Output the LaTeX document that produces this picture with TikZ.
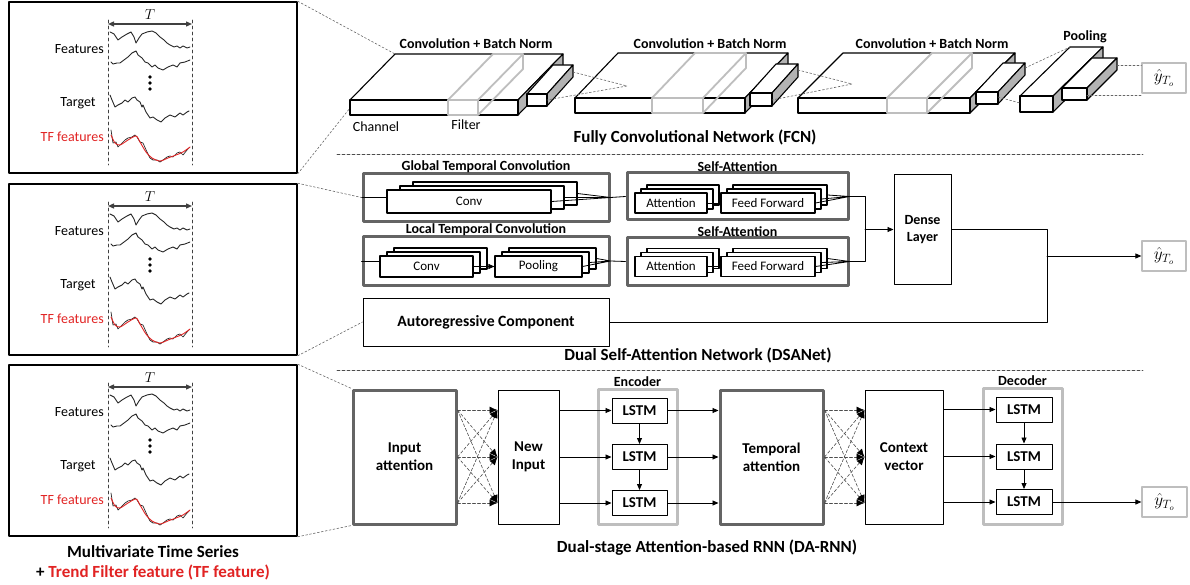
\documentclass[tikz,border=0pt]{standalone}
\usepackage{fontspec}
\setmainfont{Carlito}
\usepackage{amsmath}
\usetikzlibrary{arrows.meta,positioning}

\definecolor{tfred}{RGB}{225,35,35}
\definecolor{boxgray}{RGB}{100,100,100}
\definecolor{litegray}{RGB}{190,190,190}

\newcommand{\cuboid}[6]{%
  \filldraw[fill=white] (#1,#2) -- (#1+#5,#2-#6) -- (#1+#3+#5,#2-#6) -- (#1+#3,#2) -- cycle;
  \filldraw[fill=black!30] (#1+#3,#2) -- (#1+#3+#5,#2-#6) -- (#1+#3+#5,#2+#4-#6) -- (#1+#3,#2+#4) -- cycle;
  \filldraw[fill=white] (#1,#2) rectangle (#1+#3,#2+#4);
}
\newcommand{\filtbox}[6]{%
  \draw[litegray,line width=1.8pt] (#1,#2) rectangle (#1+#3,#2+#4)
    (#1,#2) -- (#1+#5,#2-#6) -- (#1+#3+#5,#2-#6) -- (#1+#3,#2)
    (#1+#3+#5,#2-#6) -- (#1+#3+#5,#2+#4-#6) -- (#1+#3,#2+#4);
}
\newcommand{\layerstack}[7]{%
  \node[lyr,minimum width=#4,minimum height=#5] (#1c) at (#2+2*#6,#3-8) {};
  \node[lyr,minimum width=#4,minimum height=#5] (#1b) at (#2+#6,#3-4) {};
  \node[lyr,minimum width=#4,minimum height=#5] (#1) at (#2,#3) {#7};
}

\begin{document}
\begin{tikzpicture}[x=1pt,y=-1pt,line cap=round,line join=round,>={Triangle[length=6pt,width=5pt]},
  panel/.style={draw,line width=1.5pt,minimum width=288,minimum height=171,inner sep=0},
  lbl/.style={font=\fontsize{14}{16}\selectfont,inner sep=1pt},
  blbl/.style={font=\fontsize{14}{16}\selectfont\bfseries,inner sep=1pt},
  ttl/.style={font=\fontsize{17}{20}\selectfont\bfseries,inner sep=1pt},
  grp/.style={draw=boxgray,line width=3pt,inner sep=0},
  lyr/.style={draw,fill=white,line width=1.1pt,inner sep=0,font=\fontsize{13}{15}\selectfont},
  blk/.style={draw,line width=1pt,inner sep=0,align=center,font=\fontsize{15}{18}\selectfont\bfseries},
  att/.style={blk,draw=boxgray,line width=3pt},
  coder/.style={draw=litegray,line width=3pt,inner sep=0},
  lstm/.style={draw,line width=1pt,minimum width=55,minimum height=25,inner sep=0,font=\fontsize{15}{18}\selectfont\bfseries},
  yhat/.style={draw=litegray,line width=1.2pt,minimum width=44,minimum height=30,inner sep=0,font=\fontsize{17}{20}\selectfont},
  zoomln/.style={black!60,dash pattern=on 2pt off 2pt,line width=0.6pt},
  sepln/.style={black!70,dash pattern=on 3pt off 2pt,line width=0.6pt},
  xarr/.style={black!70,dash pattern=on 3pt off 2pt,line width=0.6pt,-{Latex[length=8pt,width=7pt,color=black]}},
  wave/.style={black!85,line width=0.9pt}]
\useasboundingbox (0,0) rectangle (1190,585);

\foreach \oy/\nm in {0/p1,182/p2,363/p3}{
  \begin{scope}[shift={(0,\oy)}]
    \node[panel] (\nm) at (153,87.5) {};
    \draw[black!75,dashed,line width=0.7pt] (108,20) -- (108,165) (192,20) -- (192,165);
    \draw[<->,black!75,line width=1.3pt] (108,24) -- (192,24);
    \node[font=\fontsize{15}{18}\selectfont] at (150,15) {$T$};
    \node[lbl,anchor=east] at (105,49) {Features};
    \node[lbl] at (78,103) {Target};
    \node[lbl,anchor=east,text=tfred] at (105,137) {TF features};
    \fill (150,77) circle[radius=1.9pt] (150,83) circle[radius=1.9pt] (150,89) circle[radius=1.9pt];
    \draw[wave] plot coordinates {(110,32) (114,34) (118,40) (122,37) (127,34) (131,32) (134,37) (136,43) (139,38) (142,34) (147,32) (152,31) (156,33) (160,37) (164,40) (167,43) (170,45) (174,47) (177,46) (180,48) (183,46) (187,48) (190,47)};
    \draw[wave] plot coordinates {(111,62) (113,64) (117,63) (120,63) (124,60) (128,57) (132,53) (136,51) (138,55) (142,58) (145,62) (148,63) (152,67) (155,65) (158,68) (163,70) (168,67) (173,65) (177,67) (180,63) (185,62) (190,60)};
    \draw[wave] plot coordinates {(110,95) (112,100) (115,107) (118,105) (122,103) (125,100) (128,102) (132,98) (135,97) (137,100) (140,102) (142,107) (143,105) (146,112) (148,115) (150,118) (153,117) (157,120) (161,122) (165,118) (170,115) (175,117) (180,113) (183,115) (187,112) (189,111)};
    \draw[wave,line width=0.7pt] plot coordinates {(111,130) (113,143) (116,142) (118,147) (122,143) (125,140) (128,138) (132,137) (135,135) (137,137) (140,142) (143,143) (147,152) (150,158) (153,160) (157,160) (160,162) (163,160) (167,157) (170,156) (173,157) (177,153) (180,152) (183,155) (187,150) (189,148)};
    \draw[tfred,line width=0.9pt] plot[smooth] coordinates {(111,135) (115,143) (120,145) (128,140) (136,136) (140,142) (146,152) (152,158) (160,161) (168,158) (176,155) (183,152) (190,147)};
  \end{scope}
}
\node[ttl] at (153,552) {Multivariate Time Series};
\node[ttl] at (153,572) {+ \textcolor{tfred}{Trend Filter feature (TF feature)}};

\begin{scope}[line width=1.1pt]
  \cuboid{350}{100}{168}{15}{45}{46}
  \filtbox{448}{100}{30}{15}{45}{46}
  \cuboid{527}{94}{20}{12}{26}{29}
  \cuboid{575}{98}{170}{15}{43}{45}
  \filtbox{652}{98}{51}{15}{43}{45}
  \cuboid{750}{93}{22}{13}{26}{29}
  \cuboid{798}{98}{172}{15}{45}{45}
  \filtbox{887}{98}{40}{15}{45}{45}
  \cuboid{976}{92}{22}{12}{27}{29}
  \cuboid{1020}{96}{33}{16}{50}{49}
  \cuboid{1062}{88}{25}{12}{30}{30}
\end{scope}
\draw[zoomln] (p1.north east) -- (395,54) (p1.south east) -- (350,108);
\draw[zoomln] (573,72) -- (627,86) -- (547,100);
\draw[zoomln] (798,70) -- (852,84) -- (772,100);
\draw[zoomln] (1025,68) -- (1070,47) (998,97) -- (1020,103);
\node[yhat] (y1) at (1164,78) {$\hat{y}_{T_o}$};
\draw[zoomln] (1117,65) -- (y1.west |- 0,65) (1087,95) -- (y1.west |- 0,95);
\node[blbl] at (476,44) {Convolution + Batch Norm};
\node[blbl] at (710,44) {Convolution + Batch Norm};
\node[blbl] at (932,44) {Convolution + Batch Norm};
\node[blbl] at (1085,37) {Pooling};
\node[lbl] at (376,127) {Channel};
\node[lbl] at (466,125) {Filter};
\node[ttl] at (695,138) {Fully Convolutional Network (FCN)};
\draw[sepln] (337,154) -- (1143,154);

\node[grp,minimum width=246,minimum height=48] (gtc) at (486,197.5) {};
\node[blbl,above=-1.5pt of gtc] {Global Temporal Convolution};
\layerstack{gc}{469}{201.5}{164}{23}{13}{Conv}
\node[grp,minimum width=246,minimum height=48] (ltc) at (486,261) {};
\node[blbl,above=-1.5pt of ltc] {Local Temporal Convolution};
\layerstack{lc}{426.5}{266.5}{93}{21}{7}{Conv}
\layerstack{lp}{538.5}{266.5}{87}{21}{7}{Pooling}
\node[grp,minimum width=221,minimum height=47] (sa1) at (737.5,196.5) {};
\node[blbl,above=-1.5pt of sa1] {Self-Attention};
\layerstack{at1}{671}{203}{72}{20}{6}{Attention}
\layerstack{ff1}{768}{203}{94}{20}{6}{Feed Forward}
\node[grp,minimum width=221,minimum height=47] (sa2) at (737.5,261.5) {};
\node[blbl,above=-1.5pt of sa2] {Self-Attention};
\layerstack{at2}{671}{266.5}{72}{20}{6}{Attention}
\layerstack{ff2}{768}{266.5}{94}{20}{6}{Feed Forward}
\node[blk,font=\fontsize{14}{17}\selectfont\bfseries,minimum width=57,minimum height=109] (dl) at (922.5,229.5) {Dense\\Layer};
\node[blk,font=\fontsize{15.7}{18}\selectfont\bfseries,minimum width=246,minimum height=48] (ar) at (486,322) {Autoregressive Component};
\node[yhat] (y2) at (1164,256) {$\hat{y}_{T_o}$};
\node[ttl] at (698,355) {Dual Self-Attention Network (DSANet)};
\coordinate (jn) at (865,229.5);
\coordinate (mg) at (1047,256);

\begin{scope}[line width=0.8pt]
  \draw (gtc.west) -- (gtc.west -| gc.west);
  \draw (gcc.east) -- (gtc.east) (gcb.east) -- (gtc.east) (gc.east) -- (gtc.east) -- (sa1.west);
  \draw (ltc.west) -- (ltc.west -| lc.west);
  \draw[->] (lc.east) -- (lp.west);
  \draw (lpc.east) -- (ltc.east) (lpb.east) -- (ltc.east) (lp.east) -- (ltc.east) -- (sa2.west);
  \draw (at1.east) -- (ff1.west) (at2.east) -- (ff2.west);
  \draw (ff1c.east) -- (sa1.east) (ff1b.east) -- (sa1.east) (ff1.east) -- (sa1.east);
  \draw (ff2c.east) -- (sa2.east) (ff2b.east) -- (sa2.east) (ff2.east) -- (sa2.east);
  \draw (sa1.east) -| (jn) |- (sa2.east);
  \draw[->] (jn) -- (dl.west);
  \draw (dl.east) -| (mg);
  \draw (ar.east) -| (mg);
  \draw[->] (mg) -- (y2.west);
\end{scope}
\draw[zoomln] (p2.north east) -- (gtc.west) (p2.south east) -- (ar.west);
\draw[sepln] (337,370) -- (1143,370);

\node[att,minimum width=103,minimum height=134] (ia) at (404.5,457) {Input\\attention};
\node[blk,minimum width=61,minimum height=134] (ni) at (528.5,457) {New\\Input};
\node[coder,minimum width=79,minimum height=135] (enc) at (637.5,456.5) {};
\node[blbl,above=0pt of enc] {Encoder};
\node[lstm] (e1) at (639.5,410.5) {LSTM};
\node[lstm] (e2) at (639.5,457) {LSTM};
\node[lstm] (e3) at (639.5,503) {LSTM};
\node[att,minimum width=103,minimum height=134] (ta) at (771.5,457) {Temporal\\attention};
\node[blk,minimum width=78,minimum height=134] (cv) at (904,457) {Context\\vector};
\node[coder,minimum width=79,minimum height=136] (dec) at (1022.5,456) {};
\node[blbl,above=0pt of dec] {Decoder};
\node[lstm,minimum width=56] (d1) at (1024,409.5) {LSTM};
\node[lstm,minimum width=56] (d2) at (1024,456.5) {LSTM};
\node[lstm,minimum width=56] (d3) at (1024,502) {LSTM};
\node[yhat,minimum width=45] (y3) at (1164.5,502) {$\hat{y}_{T_o}$};
\node[ttl] at (707,548) {Dual-stage Attention-based RNN (DA-RNN)};

\foreach \a in {47,0,-46}
  \foreach \b in {47,0,-46}{
    \draw[xarr] ([yshift=\a pt]ia.east) -- ([yshift=\b pt]ni.west);
    \draw[xarr] ([yshift=\a pt]ta.east) -- ([yshift=\b pt]cv.west);
  }
\begin{scope}[line width=0.8pt]
  \foreach \n in {e1,e2,e3}{
    \draw[->] (ni.east |- \n.west) -- (\n.west);
    \draw[->] (\n.east) -- (\n.east -| ta.west);
  }
  \foreach \n in {d1,d2,d3}
    \draw[->] (cv.east |- \n.west) -- (\n.west);
  \draw[->] (e1) -- (e2);
  \draw[->] (e2) -- (e3);
  \draw[->] (d1) -- (d2);
  \draw[->] (d2) -- (d3);
  \draw[->] (d3.east) -- (y3.west);
\end{scope}
\draw[zoomln] (p3.north east) -- (ia.north west) (p3.south east) -- (ia.south west);
\end{tikzpicture}
\end{document}
